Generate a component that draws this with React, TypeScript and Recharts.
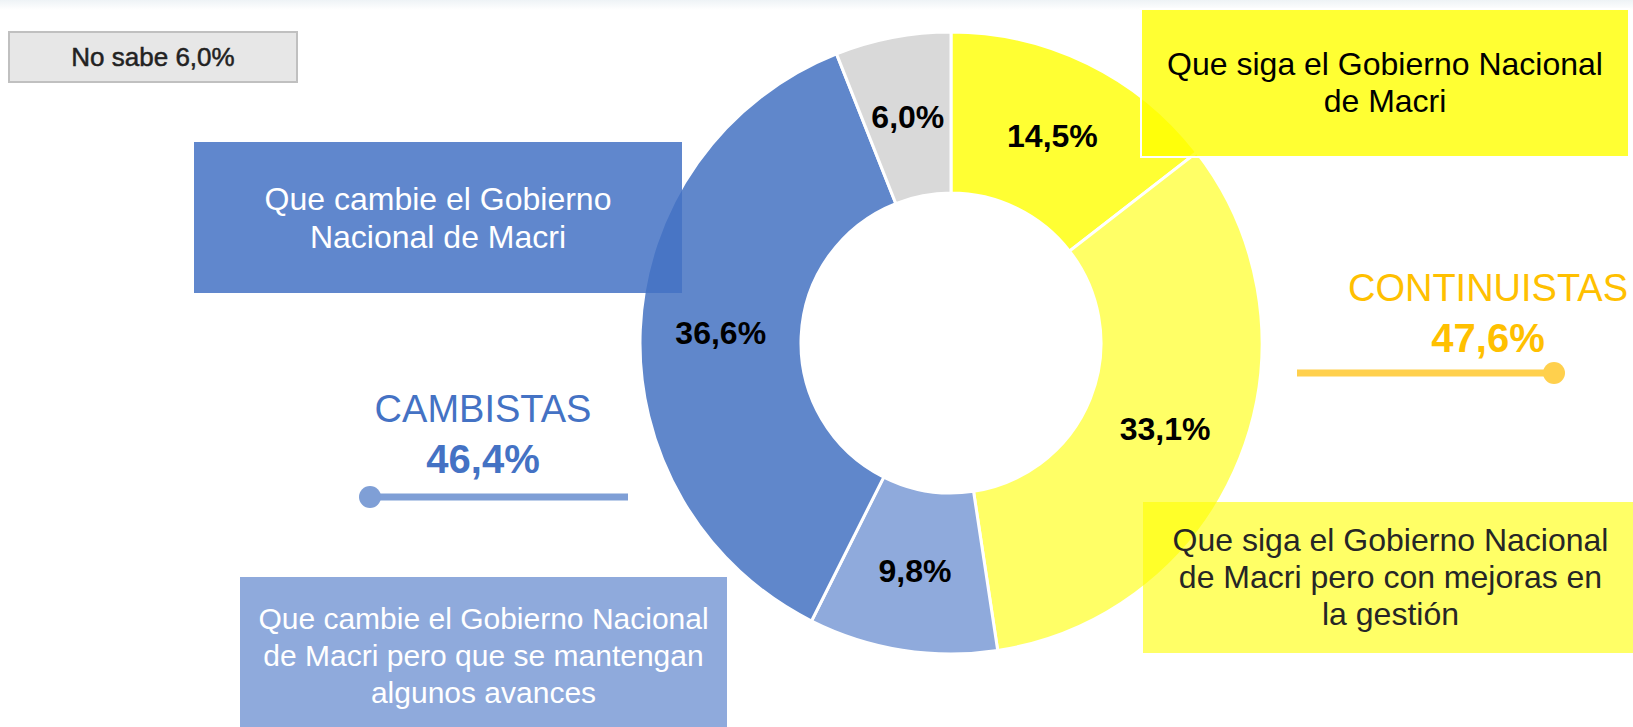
import { Cell, Pie, PieChart } from "recharts";

const segmentNames = [
  "Que siga el Gobierno Nacional de Macri",
  "Que siga el Gobierno Nacional de Macri pero con mejoras en la gestión",
  "Que cambie el Gobierno Nacional de Macri pero que se mantengan algunos avances",
  "Que cambie el Gobierno Nacional de Macri",
  "No sabe",
];
const segmentValues = [14.5, 33.1, 9.8, 36.6, 6.0];
const segmentColors = ["#FFFF33", "#FFFF66", "#8FAADC", "#6087CB", "#D9D9D9"];

const groupNames = ["CONTINUISTAS", "CAMBISTAS"];
const groupValues = [47.6, 46.4];

const FONT = "'Liberation Sans', Arial, sans-serif";
const RADIAN = Math.PI / 180;

function formatPct(value: number) {
  return value.toFixed(1).replace(".", ",") + "%";
}

const data = segmentNames.map((name, i) => ({ name, value: segmentValues[i] }));

function renderLabel(props: any) {
  const { cx, cy, midAngle, innerRadius, outerRadius, value } = props;
  const r = (innerRadius + outerRadius) / 2;
  const x = cx + r * Math.cos(-midAngle * RADIAN);
  const y = cy + r * Math.sin(-midAngle * RADIAN);
  return (
    <text
      x={x}
      y={y}
      fill="#000"
      textAnchor="middle"
      dominantBaseline="central"
      fontSize={32}
      fontWeight="bold"
      fontFamily={FONT}
    >
      {formatPct(value)}
    </text>
  );
}

type BoxProps = {
  left: number;
  top: number;
  width: number;
  height: number;
  background: string;
  color: string;
  fontSize: number;
  lineHeight: number;
  border?: string;
  stroke?: string;
  children: React.ReactNode;
};

function Box({ left, top, width, height, background, color, fontSize, lineHeight, border, stroke, children }: BoxProps) {
  return (
    <div
      style={{
        position: "absolute",
        left,
        top,
        width,
        height,
        boxSizing: "border-box",
        background,
        border,
        color,
        fontSize,
        lineHeight: `${lineHeight}px`,
        fontFamily: FONT,
        display: "flex",
        alignItems: "center",
        justifyContent: "center",
        textAlign: "center",
        WebkitTextStroke: stroke,
      }}
    >
      <div>{children}</div>
    </div>
  );
}

function GroupTitle({ x, y, name, value, color }: { x: number; y: number; name: string; value: number; color: string }) {
  return (
    <>
      <div
        style={{
          position: "absolute",
          left: x - 200,
          top: y - 22,
          width: 400,
          textAlign: "center",
          fontFamily: FONT,
          fontSize: 38,
          lineHeight: "44px",
          color,
        }}
      >
        {name}
      </div>
      <div
        style={{
          position: "absolute",
          left: x - 200,
          top: y + 26,
          width: 400,
          textAlign: "center",
          fontFamily: FONT,
          fontSize: 40,
          fontWeight: "bold",
          lineHeight: "48px",
          color,
        }}
      >
        {formatPct(value)}
      </div>
    </>
  );
}

export default function App() {
  return (
    <div
      style={{
        position: "relative",
        width: 1633,
        height: 727,
        overflow: "hidden",
        background: "#fff",
      }}
    >
      <style>{"body{margin:0}"}</style>
      <div
        style={{
          position: "absolute",
          left: 0,
          top: 0,
          width: 1633,
          height: 10,
          background: "linear-gradient(#eef3f6, #ffffff)",
        }}
      />
      <PieChart width={1633} height={727} margin={{ top: 0, right: 0, bottom: 0, left: 0 }}>
        <Pie
          data={data}
          dataKey="value"
          nameKey="name"
          cx={951}
          cy={343}
          innerRadius={150}
          outerRadius={311}
          startAngle={90}
          endAngle={-270}
          stroke="#ffffff"
          strokeWidth={3}
          label={renderLabel}
          labelLine={false}
          isAnimationActive={false}
        >
          {data.map((entry, i) => (
            <Cell key={entry.name} fill={segmentColors[i]} />
          ))}
        </Pie>
      </PieChart>

      <Box left={8} top={31} width={290} height={52} background="#E7E7E7" border="2px solid #C0C0C0" color="#222" fontSize={26} lineHeight={30} stroke="0.5px #222">
        {segmentNames[4]} {formatPct(segmentValues[4])}
      </Box>

      <Box left={194} top={142} width={488} height={151} background="rgba(68,114,196,0.85)" color="#fff" fontSize={32} lineHeight={38}>
        Que cambie el Gobierno
        <br />
        Nacional de Macri
      </Box>

      <Box left={1140} top={8} width={490} height={150} background="rgba(255,255,0,0.8)" border="2px solid #fff" color="#000" fontSize={32} lineHeight={37}>
        Que siga el Gobierno Nacional
        <br />
        de Macri
      </Box>

      <Box left={240} top={577} width={487} height={156} background="#8FAADC" color="#fff" fontSize={30} lineHeight={37}>
        Que cambie el Gobierno Nacional
        <br />
        de Macri pero que se mantengan
        <br />
        algunos avances
      </Box>

      <Box left={1143} top={502} width={495} height={151} background="rgba(255,255,0,0.6)" color="#262626" fontSize={32} lineHeight={37}>
        Que siga el Gobierno Nacional
        <br />
        de Macri pero con mejoras en
        <br />
        la gestión
      </Box>

      <GroupTitle x={1488} y={288} name={groupNames[0]} value={groupValues[0]} color="#FFC000" />
      <GroupTitle x={483} y={409} name={groupNames[1]} value={groupValues[1]} color="#4472C4" />

      <svg
        width={1633}
        height={727}
        style={{ position: "absolute", left: 0, top: 0, pointerEvents: "none" }}
      >
        <line x1={1297} y1={373} x2={1554} y2={373} stroke="#FFD04D" strokeWidth={7} />
        <circle cx={1554} cy={373} r={11} fill="#FFD04D" />
        <line x1={370} y1={497} x2={628} y2={497} stroke="#7F9FD6" strokeWidth={7} />
        <circle cx={370} cy={497} r={11} fill="#7F9FD6" />
      </svg>
    </div>
  );
}
